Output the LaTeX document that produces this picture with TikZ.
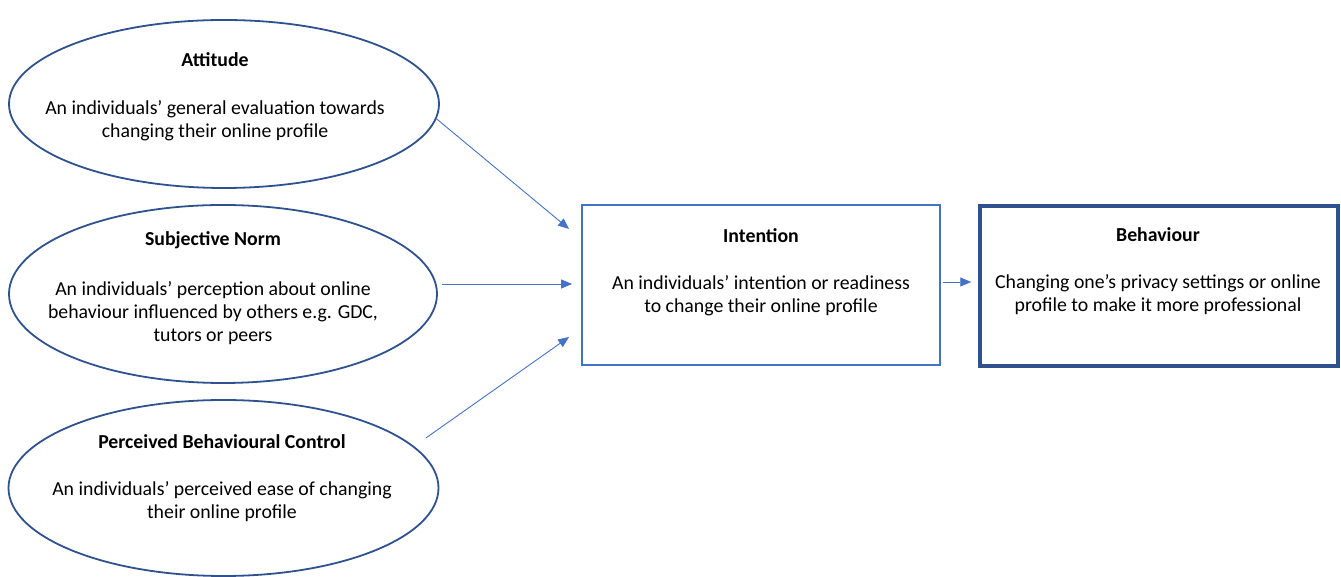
\documentclass[tikz,border=0pt]{standalone}
\usepackage{fontspec}
\setmainfont{Carlito}
\usetikzlibrary{shapes.geometric,arrows.meta,calc}
\definecolor{dblue}{HTML}{2F528F}
\definecolor{lblue}{HTML}{4472C4}
\begin{document}
\begin{tikzpicture}[x=1pt,y=1pt,
  ell/.style={draw=dblue,line width=1.8pt,ellipse,inner sep=0pt},
  ttl/.style={font=\fontsize{19.8}{23}\selectfont\bfseries,inner sep=0pt},
  txt/.style={font=\fontsize{19.8}{23}\selectfont,align=center,inner sep=0pt},
  arr/.style={draw=lblue,line width=0.9pt,-{Triangle[length=11pt,width=9pt]}}]
\useasboundingbox (0,0) rectangle (1341,577);
% ellipses
\node[ell,minimum width=430pt,minimum height=168pt] (att) at (224,473) {};
\node[ell,minimum width=428pt,minimum height=178pt] (sn) at (223,283) {};
\node[ell,minimum width=430pt,minimum height=176pt] (pbc) at (223.5,89) {};
% boxes
\node[draw=lblue,line width=1.8pt,minimum width=358pt,minimum height=160pt,inner sep=0pt] (int) at (761,292) {};
\node[draw=dblue,line width=3.5pt,minimum width=358pt,minimum height=160pt,inner sep=0pt] (beh) at (1159,291) {};
% texts
\node[ttl] (attT) at (215,517) {Attitude};
\node[txt] (attB) at (215,456.5) {An individuals’ general evaluation towards\\changing their online profile};
\node[ttl] (snT) at (213,337) {Subjective Norm};
\node[txt] (snB) at (213,264) {An individuals’ perception about online\\behaviour influenced by others e.g. GDC,\\tutors or peers};
\node[ttl] (pbcT) at (222,135) {Perceived Behavioural Control};
\node[txt] (pbcB) at (222,75.5) {An individuals’ perceived ease of changing\\their online profile};
\node[ttl] (intT) at (761,341) {Intention};
\node[txt] (intB) at (761,281.5) {An individuals’ intention or readiness\\to change their online profile};
\node[ttl] (behT) at (1158,342) {Behaviour};
\node[txt] (behB) at (1158,282.5) {Changing one’s privacy settings or online\\profile to make it more professional};
% arrows
\draw[arr] (att.-4) -- ($(int.west)+(-12,56)$);
\draw[arr] ($(sn.east |- int.west)+(4,1)$) -- ($(int.west)+(-9,1)$);
\draw[arr] ($(pbc.east)+(-13.5,50)$) -- ($(int.west)+(-12,-52)$);
\draw[arr] ($(int.east)+(2,3)$) -- ($(beh.west)+(-7,4)$);
\end{tikzpicture}
\end{document}
